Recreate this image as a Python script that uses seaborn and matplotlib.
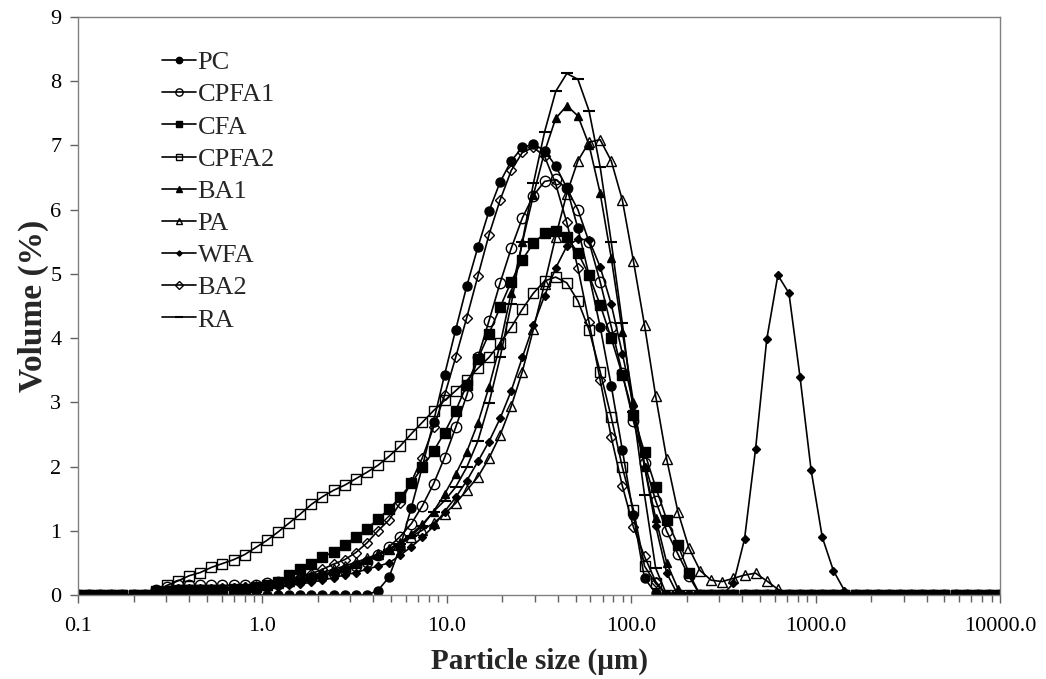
import matplotlib
matplotlib.use("Agg")
import matplotlib.pyplot as plt
from matplotlib.ticker import LogLocator, NullFormatter, FixedLocator
import seaborn as sns

sns.set_theme(style="ticks")
plt.rcParams["font.family"] = ["Liberation Serif", "DejaVu Serif"]

# particle size classes (um)
size_um = [0.1000, 0.1149, 0.1320, 0.1516, 0.1742, 0.2001, 0.2299, 0.2641, 0.3034, 0.3486,
           0.4005, 0.4601, 0.5286, 0.6073, 0.6977, 0.8015, 0.9201, 1.057, 1.214, 1.395,
           1.603, 1.841, 2.115, 2.430, 2.792, 3.207, 3.685, 4.233, 4.863, 5.587,
           6.418, 7.374, 8.471, 9.726, 11.17, 12.83, 14.75, 16.94, 19.46, 22.36,
           25.68, 29.50, 33.90, 38.94, 44.74, 51.39, 59.04, 67.83, 77.92, 89.52,
           102.8, 118.1, 135.7, 155.9, 179.1, 205.8, 236.4, 271.6, 311.9, 358.4,
           411.7, 472.9, 543.3, 624.2, 717.0, 823.7, 946.2, 1087, 1249, 1434,
           1648, 1893, 2174, 2498, 2870, 3297, 3787, 4351, 4998, 5741,
           6596, 7577, 8704, 10000]

# volume (%) per size class
PC = [0.0] * 27 + [0.07, 0.28, 0.75, 1.36, 2.00, 2.70, 3.43, 4.13, 4.81, 5.42,
                   5.98, 6.43, 6.76, 6.97, 7.02, 6.92, 6.68, 6.34, 5.71, 4.98,
                   4.18, 3.26, 2.26, 1.25, 0.26, 0.03] + [0.0] * 31
CPFA1 = [0.0] * 7 + [0.08, 0.13, 0.15, 0.15, 0.15, 0.15, 0.15, 0.15, 0.15, 0.16,
                     0.18, 0.20, 0.22, 0.24, 0.27, 0.30, 0.34, 0.39, 0.45, 0.52,
                     0.62, 0.75, 0.91, 1.11, 1.39, 1.73, 2.14, 2.61, 3.11, 3.70,
                     4.27, 4.86, 5.40, 5.87, 6.22, 6.44, 6.47, 6.33, 6.00, 5.50,
                     4.88, 4.18, 3.45, 2.71, 2.05, 1.47, 0.99, 0.64, 0.29] + [0.0] * 28
CFA = [0.0] * 7 + [0.04, 0.05, 0.06, 0.06, 0.07, 0.07, 0.08, 0.09, 0.10, 0.12,
                   0.15, 0.21, 0.31, 0.40, 0.48, 0.59, 0.67, 0.78, 0.90, 1.03,
                   1.18, 1.34, 1.52, 1.74, 1.99, 2.24, 2.53, 2.87, 3.27, 3.68,
                   4.07, 4.48, 4.88, 5.22, 5.48, 5.63, 5.67, 5.57, 5.33, 4.98,
                   4.52, 4.00, 3.43, 2.80, 2.22, 1.68, 1.17, 0.78, 0.34] + [0.0] * 28
CPFA2 = [0.0] * 7 + [0.06, 0.15, 0.22, 0.30, 0.35, 0.43, 0.49, 0.55, 0.63, 0.74,
                     0.85, 0.98, 1.12, 1.26, 1.41, 1.53, 1.63, 1.71, 1.81, 1.91,
                     2.02, 2.16, 2.32, 2.51, 2.69, 2.87, 3.03, 3.18, 3.34, 3.53,
                     3.70, 3.92, 4.17, 4.45, 4.70, 4.89, 4.95, 4.86, 4.58, 4.13,
                     3.48, 2.77, 1.99, 1.33, 0.45, 0.18] + [0.0] * 31
BA1 = [0.0] * 7 + [0.05, 0.07, 0.08, 0.08, 0.09, 0.10, 0.10, 0.11, 0.12, 0.14,
                   0.16, 0.18, 0.21, 0.24, 0.28, 0.32, 0.37, 0.42, 0.48, 0.55,
                   0.63, 0.72, 0.82, 0.95, 1.10, 1.30, 1.57, 1.88, 2.23, 2.68,
                   3.24, 3.90, 4.71, 5.49, 6.23, 6.90, 7.42, 7.62, 7.46, 7.01,
                   6.26, 5.25, 4.10, 3.00, 2.00, 1.20, 0.50, 0.10] + [0.0] * 29
PA = [0.0] * 7 + [0.04, 0.06, 0.07, 0.08, 0.08, 0.09, 0.10, 0.11, 0.12, 0.14,
                  0.16, 0.19, 0.22, 0.26, 0.30, 0.35, 0.40, 0.45, 0.51, 0.57,
                  0.64, 0.71, 0.78, 0.91, 1.01, 1.12, 1.26, 1.43, 1.63, 1.84,
                  2.13, 2.49, 2.94, 3.48, 4.14, 4.85, 5.58, 6.25, 6.76, 7.05,
                  7.09, 6.76, 6.15, 5.20, 4.20, 3.10, 2.11, 1.30, 0.73, 0.38,
                  0.23, 0.21, 0.26, 0.31, 0.34, 0.22, 0.09] + [0.0] * 20
WFA = [0.0] * 7 + [0.04, 0.05, 0.06, 0.06, 0.07, 0.07, 0.08, 0.08, 0.09, 0.10,
                   0.11, 0.13, 0.15, 0.17, 0.20, 0.23, 0.27, 0.31, 0.35, 0.40,
                   0.45, 0.50, 0.62, 0.75, 0.90, 1.07, 1.30, 1.52, 1.78, 2.08,
                   2.39, 2.75, 3.18, 3.70, 4.20, 4.66, 5.09, 5.43, 5.54, 5.53,
                   5.11, 4.53, 3.76, 2.95, 2.00, 1.08, 0.34, 0.0, 0.0, 0.0,
                   0.0, 0.0, 0.18, 0.87, 2.28, 3.98, 4.98, 4.70, 3.39, 1.94,
                   0.90, 0.38, 0.07] + [0.0] * 14
BA2 = [0.0] * 7 + [0.06, 0.08, 0.09, 0.10, 0.10, 0.10, 0.11, 0.11, 0.12, 0.13,
                   0.15, 0.18, 0.23, 0.28, 0.33, 0.40, 0.48, 0.55, 0.66, 0.81,
                   1.00, 1.17, 1.43, 1.76, 2.14, 2.61, 3.11, 3.70, 4.32, 4.97,
                   5.61, 6.15, 6.61, 6.89, 6.97, 6.83, 6.40, 5.80, 5.09, 4.25,
                   3.35, 2.46, 1.70, 1.06, 0.60, 0.21] + [0.0] * 31
RA = [0.0] * 7 + [0.04, 0.06, 0.07, 0.07, 0.08, 0.08, 0.09, 0.10, 0.11, 0.12,
                  0.14, 0.16, 0.19, 0.22, 0.26, 0.30, 0.35, 0.40, 0.46, 0.53,
                  0.61, 0.70, 0.80, 0.92, 1.08, 1.30, 1.47, 1.68, 1.99, 2.40,
                  2.99, 3.70, 4.53, 5.50, 6.41, 7.21, 7.84, 8.12, 8.03, 7.54,
                  6.67, 5.50, 4.23, 2.85, 1.56, 0.42] + [0.0] * 31

series = {"PC": PC, "CPFA1": CPFA1, "CFA": CFA, "CPFA2": CPFA2, "BA1": BA1,
          "PA": PA, "WFA": WFA, "BA2": BA2, "RA": RA}
for name, vals in series.items():
    assert len(vals) == len(size_um), (name, len(vals))

x_ticks = [0.1, 1, 10, 100, 1000, 10000]
x_tick_labels = ["0.1", "1.0", "10.0", "100.0", "1000.0", "10000.0"]
y_ticks = [0, 1, 2, 3, 4, 5, 6, 7, 8, 9]

# marker, filled?, size
styles = {
    "PC": ("o", True, 6.5),
    "CPFA1": ("o", False, 7.5),
    "CFA": ("s", True, 6.5),
    "CPFA2": ("s", False, 7),
    "BA1": ("^", True, 6),
    "PA": ("^", False, 7),
    "WFA": ("D", True, 3.8),
    "BA2": ("D", False, 5.5),
    "RA": ("_", True, 9),
}

fig, ax = plt.subplots(figsize=(10.46, 6.79), dpi=100)
fig.subplots_adjust(left=0.0746, right=0.956, top=0.975, bottom=0.1237)

for name, vals in series.items():
    marker, filled, ms = styles[name]
    sns.lineplot(x=size_um, y=vals, ax=ax, color="black", marker=marker,
                 markersize=ms, markerfacecolor="black" if filled else "none",
                 markeredgecolor="black", markeredgewidth=1.5 if name == "RA" else 1.0,
                 linewidth=1.2, label=name, estimator=None, sort=False)

ax.set_xscale("log")
ax.set_xlim(0.1, 10000)
ax.set_ylim(0, 9)
ax.xaxis.set_major_locator(FixedLocator(x_ticks))
ax.set_xticklabels(x_tick_labels)
ax.xaxis.set_minor_locator(LogLocator(base=10, subs=range(2, 10)))
ax.xaxis.set_minor_formatter(NullFormatter())
ax.set_yticks(y_ticks)

for side in ["top", "right", "left", "bottom"]:
    ax.spines[side].set_color("#808080")
    ax.spines[side].set_linewidth(1.0)
ax.tick_params(axis="both", which="major", direction="out", length=6, width=1,
               color="#606060", labelsize=16, labelcolor="black")
ax.tick_params(axis="x", which="major", pad=10)
ax.tick_params(axis="y", which="major", pad=6)
ax.tick_params(axis="x", which="minor", direction="out", length=5, width=1, color="#606060")

ax.set_xlabel("Particle size (µm)", fontsize=21, fontweight="bold", labelpad=8)
ax.set_ylabel("Volume (%)", fontsize=24, fontweight="bold", labelpad=1)

ax.legend(loc="upper left", bbox_to_anchor=(0.074, 0.969), frameon=False,
          fontsize=19, handlelength=1.3, handletextpad=0.05, labelspacing=0.33,
          markerscale=0.7, borderaxespad=0.2)

plt.savefig("out.png", dpi=100)
plt.close()
